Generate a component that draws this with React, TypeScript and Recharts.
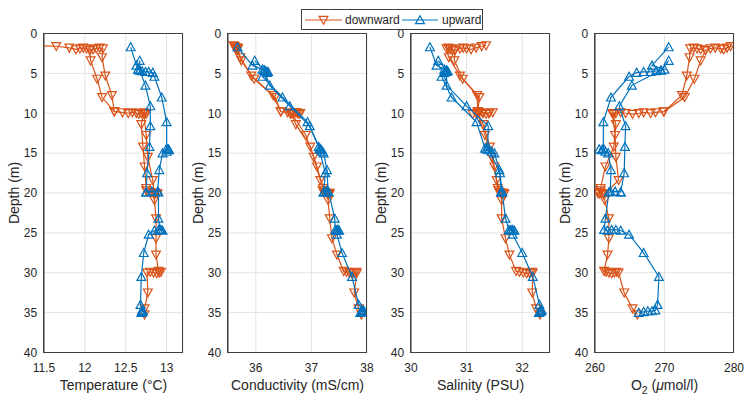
import React from 'react';
import { ScatterChart, Scatter, XAxis, YAxis, CartesianGrid } from 'recharts';

// CTD profile: downward cast (orange) and upward cast (blue), four sensors

const ORANGE = '#D95319';
const BLUE = '#0072BD';
const INK = '#262626';
const AXIS = '#404040';
const GRID = '#e3e3e3';
const FONT = '"Liberation Sans", Arial, Helvetica, sans-serif';

const depthTicks = [0, 5, 10, 15, 20, 25, 30, 35, 40];

// ---- downward cast, main path (soak at 2 m, stops at 10, 20, 30 m) ----
const downDepth = [
  1.5, 1.6, 1.8, 2.0, 1.9, 1.8, 1.9, 2.1, 2.0, 1.9, 1.8, 1.9,
  3.0, 5.3, 7.75,
  9.8, 9.9, 10.0, 9.9, 10.0, 10.1, 10.0, 9.9, 10.0, 10.1, 10.0,
  11.4, 14.2, 16.7, 19.4,
  19.7, 19.9, 20.0, 20.1, 20.0, 20.2,
  20.9, 23.2, 25.7, 27.75,
  29.8, 29.9, 30.0, 30.1, 30.0, 29.9, 30.0,
  32.5, 34.5, 35.25,
];
const downTemp = [
  11.40, 11.65, 11.81, 11.89, 11.94, 11.98, 12.02, 12.06, 12.10, 12.14, 12.18, 12.22,
  12.21, 12.25, 12.33,
  12.36, 12.46, 12.53, 12.58, 12.63, 12.66, 12.69, 12.72, 12.74, 12.75, 12.72,
  12.69, 12.71, 12.73, 12.75,
  12.75, 12.80, 12.85, 12.89, 12.87, 12.85,
  12.85, 12.87, 12.87, 12.87,
  12.90, 12.93, 12.91, 12.88, 12.84, 12.80, 12.76,
  12.77, 12.73, 12.73,
];
const downCond = [
  35.60, 35.62, 35.63, 35.64, 35.64, 35.65, 35.65, 35.66, 35.66, 35.67, 35.67, 35.68,
  35.72, 35.92, 36.31,
  36.45, 36.57, 36.66, 36.74, 36.80, 36.78, 36.75, 36.71, 36.67, 36.62, 36.64,
  36.72, 36.98, 37.10, 37.21,
  37.20, 37.24, 37.28, 37.33, 37.32, 37.30,
  37.30, 37.33, 37.37, 37.46,
  37.58, 37.63, 37.68, 37.72, 37.76, 37.80, 37.82,
  37.77, 37.85, 37.90,
];
const downSal = [
  31.35, 31.27, 31.17, 31.08, 31.00, 30.94, 30.88, 30.79, 30.74, 30.70, 30.67, 30.64,
  30.68, 30.88, 31.19,
  31.20, 31.30, 31.40, 31.47, 31.41, 31.35, 31.29, 31.23, 31.17, 31.11, 31.20,
  31.30, 31.42, 31.50, 31.56,
  31.57, 31.60, 31.64, 31.68, 31.66, 31.63,
  31.63, 31.63, 31.70, 31.77,
  31.89, 31.95, 32.02, 32.08, 32.13, 32.17, 32.19,
  32.18, 32.25, 32.32,
];
const downO2 = [
  282.0, 279.5, 279.0, 278.5, 278.1, 277.3, 276.6, 275.9, 275.2, 274.7, 274.2, 273.7,
  273.6, 273.2, 272.5,
  269.9, 268.7, 268.0, 267.0, 266.3, 265.4, 264.4, 263.7, 263.0, 262.7, 262.5,
  263.0, 262.7, 261.5, 260.8,
  260.8, 260.5, 260.4, 260.6, 261.0, 261.3,
  261.4, 262.0, 262.0, 261.8,
  261.3, 261.6, 262.0, 262.4, 262.8, 263.1, 263.4,
  264.2, 265.4, 266.1,
];

// ---- downward cast, second pass 2 m -> 10 m ----
const downDepthA = [2.1, 3.4, 5.7, 8.0, 9.8];
const downTempA = [12.06, 12.07, 12.15, 12.21, 12.36];
const downCondA = [35.66, 35.74, 35.97, 36.35, 36.45];
const downSalA = [30.79, 30.78, 30.93, 31.23, 31.20];
const downO2A = [275.9, 275.2, 274.3, 272.9, 269.9];

// ---- downward cast, second pass 10 m -> 20 m ----
const downDepthB = [10.0, 12.75, 15.5, 18.4, 20.2];
const downTempB = [12.72, 12.75, 12.77, 12.83, 12.85];
const downCondB = [36.64, 36.90, 37.04, 37.16, 37.30];
const downSalB = [31.20, 31.33, 31.45, 31.54, 31.63];
const downO2B = [262.5, 262.9, 263.0, 263.4, 261.3];

// ---- upward cast, main path (stops at 35, 25, 20, 15, 5 m) ----
const upDepth = [
  35.0, 34.9, 34.8, 34.8, 34.7, 34.0,
  30.5, 27.5, 25.2,
  24.7, 24.6, 24.6, 24.7, 24.6,
  23.2,
  19.9, 19.8, 19.9, 19.8,
  17.1,
  15.0, 14.8, 14.6, 14.5, 14.4,
  11.1, 8.0, 5.4,
  4.9, 4.8, 4.8, 4.7, 4.6, 4.5,
  4.0, 1.7,
];
const upTemp = [
  12.69, 12.70, 12.70, 12.71, 12.70, 12.68,
  12.69, 12.72, 12.78,
  12.85, 12.90, 12.93, 12.95, 12.92,
  12.90,
  12.90, 12.82, 12.75, 12.89,
  12.91,
  12.95, 13.00, 13.03, 13.02, 13.00,
  13.00, 12.94, 12.85,
  12.83, 12.78, 12.74, 12.70, 12.67, 12.65,
  12.63, 12.56,
];
const upCond = [
  37.88, 37.90, 37.91, 37.93, 37.94, 37.85,
  37.73, 37.55, 37.46,
  37.50, 37.48, 37.46, 37.45, 37.43,
  37.42,
  37.31, 37.27, 37.22, 37.30,
  37.28,
  37.22, 37.20, 37.18, 37.16, 37.15,
  36.93, 36.48, 36.12,
  36.20, 36.22, 36.20, 36.18, 36.15, 36.12,
  35.94, 35.67,
];
const upSal = [
  32.30, 32.32, 32.33, 32.34, 32.35, 32.31,
  32.19, 32.00, 31.83,
  31.86, 31.83, 31.80, 31.78, 31.76,
  31.70,
  31.64, 31.63, 31.62, 31.64,
  31.59,
  31.50, 31.45, 31.40, 31.36, 31.33,
  31.18, 30.73, 30.55,
  30.60, 30.62, 30.64, 30.66, 30.64, 30.60,
  30.46, 30.34,
];
const upO2 = [
  266.3, 267.0, 267.6, 268.2, 268.7, 269.0,
  269.2, 267.0, 264.9,
  263.7, 263.0, 262.4, 261.8, 261.3,
  261.5,
  262.0, 262.9, 263.7, 262.2,
  262.3,
  261.9, 261.5, 261.0, 260.6, 261.2,
  261.2, 262.3, 264.9,
  266.0, 267.0, 268.0, 268.8, 269.5, 270.0,
  268.2, 270.6,
];

// ---- upward cast, second pass 20 m -> 3 m ----
const upDepthB = [19.9, 17.5, 14.2, 11.6, 9.1, 6.5, 4.6, 3.4];
const upTempB = [12.75, 12.76, 12.79, 12.80, 12.80, 12.74, 12.67, 12.67];
const upCondB = [37.22, 37.25, 37.13, 36.97, 36.61, 36.25, 36.15, 35.98];
const upSalB = [31.62, 31.60, 31.38, 31.39, 31.00, 30.64, 30.64, 30.49];
const upO2B = [263.7, 264.2, 264.3, 264.4, 263.5, 265.3, 269.5, 270.6];

// ---- x axes ----
const tempTicks = [11.5, 12, 12.5, 13];
const condTicks = [36, 37, 38];
const salTicks = [30, 31, 32];
const o2Ticks = [260, 270, 280];

// layout
const PLOT_W = 139;
const PLOT_TOP = 33.5;
const PLOT_H = 319;
const AXIS_W = 45.5;
const PAD_L = 4.5;
const PAD_R = 10;
const X_AXIS_H = 45;
const LW = 1.2;
const PLOT_LEFTS = [43.5, 227.5, 410.5, 594.5];

const pts = (xs: number[], ys: number[]) => xs.map((x, i) => ({ x, y: ys[i] }));

const DownTri = (p: any) => {
  const { cx, cy } = p;
  if (cx == null || cy == null) return null;
  return (
    <path
      d={`M${cx - 4.4},${cy - 3.7}L${cx + 4.4},${cy - 3.7}L${cx},${cy + 4.3}Z`}
      fill="none"
      stroke={ORANGE}
      strokeWidth={LW}
    />
  );
};

const UpTri = (p: any) => {
  const { cx, cy } = p;
  if (cx == null || cy == null) return null;
  return (
    <path
      d={`M${cx - 4.4},${cy + 3.7}L${cx + 4.4},${cy + 3.7}L${cx},${cy - 4.3}Z`}
      fill="none"
      stroke={BLUE}
      strokeWidth={LW}
    />
  );
};

function XTitle(props: any) {
  const vb = props.viewBox ?? { x: PAD_L + AXIS_W, y: PLOT_TOP + PLOT_H, width: PLOT_W };
  const x = vb.x + vb.width / 2;
  const y = vb.y + 37;
  if (props.o2) {
    return (
      <text x={x} y={y} textAnchor="middle" fontSize={14} fill={INK} fontFamily={FONT}>
        O<tspan dy={4} fontSize={10.5}>2</tspan>
        <tspan dy={-4}> (</tspan>
        <tspan fontStyle="italic">μ</tspan>
        <tspan>mol/l)</tspan>
      </text>
    );
  }
  return (
    <text x={x} y={y} textAnchor="middle" fontSize={14} fill={INK} fontFamily={FONT}>
      {props.text}
    </text>
  );
}

function YTitle(props: any) {
  const vb = props.viewBox ?? { x: PAD_L, y: PLOT_TOP, width: AXIS_W, height: PLOT_H };
  const x = vb.x + vb.width - 25;
  const y = vb.y + vb.height / 2;
  return (
    <text
      x={x}
      y={y}
      transform={`rotate(-90, ${x}, ${y})`}
      textAnchor="middle"
      fontSize={14}
      fill={INK}
      fontFamily={FONT}
    >
      Depth (m)
    </text>
  );
}

interface PanelProps {
  plotLeft: number;
  title: string;
  o2?: boolean;
  domain: [number, number];
  ticks: number[];
  down: number[];
  downA: number[];
  downB: number[];
  up: number[];
  upB: number[];
}

function Panel({ plotLeft, title, o2, domain, ticks, down, downA, downB, up, upB }: PanelProps) {
  const tickStyle = { fill: INK, fontSize: 12, fontFamily: FONT };
  return (
    <div style={{ position: 'absolute', left: plotLeft - PAD_L - AXIS_W, top: 0 }}>
      <ScatterChart
        width={PAD_L + AXIS_W + PLOT_W + PAD_R}
        height={404}
        margin={{ top: PLOT_TOP, right: PAD_R, bottom: 404 - PLOT_TOP - PLOT_H - X_AXIS_H, left: PAD_L }}
      >
        <CartesianGrid stroke={GRID} strokeWidth={1} />
        <XAxis
          type="number"
          dataKey="x"
          domain={domain}
          ticks={ticks}
          allowDataOverflow
          height={X_AXIS_H}
          stroke={AXIS}
          tickLine={false}
          tickSize={0}
          tickMargin={10.5}
          tick={tickStyle}
          label={(p: any) => <XTitle {...p} text={title} o2={o2} />}
        />
        <YAxis
          type="number"
          dataKey="y"
          domain={[0, 40]}
          ticks={depthTicks}
          reversed
          allowDataOverflow
          width={AXIS_W}
          stroke={AXIS}
          tickLine={false}
          tickSize={0}
          tickMargin={6.8}
          tick={tickStyle}
          label={(p: any) => <YTitle {...p} />}
        />
        <Scatter
          data={pts(down, downDepth)}
          line={{ stroke: ORANGE, strokeWidth: LW }}
          lineType="joint"
          shape={DownTri}
          isAnimationActive={false}
        />
        <Scatter
          data={pts(downA, downDepthA)}
          line={{ stroke: ORANGE, strokeWidth: LW }}
          lineType="joint"
          shape={DownTri}
          isAnimationActive={false}
        />
        <Scatter
          data={pts(downB, downDepthB)}
          line={{ stroke: ORANGE, strokeWidth: LW }}
          lineType="joint"
          shape={DownTri}
          isAnimationActive={false}
        />
        <Scatter
          data={pts(up, upDepth)}
          line={{ stroke: BLUE, strokeWidth: LW }}
          lineType="joint"
          shape={UpTri}
          isAnimationActive={false}
        />
        <Scatter
          data={pts(upB, upDepthB)}
          line={{ stroke: BLUE, strokeWidth: LW }}
          lineType="joint"
          shape={UpTri}
          isAnimationActive={false}
        />
      </ScatterChart>
    </div>
  );
}

function LegendBox() {
  return (
    <div
      style={{
        position: 'absolute',
        left: 301,
        top: 9,
        width: 182,
        height: 21,
        boxSizing: 'border-box',
        border: `1px solid ${AXIS}`,
        background: '#fff',
        zIndex: 3,
      }}
    >
      <svg width={180} height={19} style={{ display: 'block' }}>
        <line x1={3} x2={40} y1={10} y2={10} stroke={ORANGE} strokeWidth={LW} />
        <DownTri cx={21.5} cy={10} />
        <text x={43} y={14.3} fontSize={12} fill={INK} fontFamily={FONT}>downward</text>
        <line x1={100} x2={136} y1={10} y2={10} stroke={BLUE} strokeWidth={LW} />
        <UpTri cx={118} cy={10} />
        <text x={140} y={14.3} fontSize={12} fill={INK} fontFamily={FONT}>upward</text>
      </svg>
    </div>
  );
}

export default function App() {
  return (
    <div
      style={{
        position: 'absolute',
        left: 0,
        top: 0,
        width: 751,
        height: 404,
        background: '#fff',
        fontFamily: FONT,
      }}
    >
      <Panel
        plotLeft={PLOT_LEFTS[0]}
        title="Temperature (°C)"
        domain={[11.5, 13.2]}
        ticks={tempTicks}
        down={downTemp}
        downA={downTempA}
        downB={downTempB}
        up={upTemp}
        upB={upTempB}
      />
      <Panel
        plotLeft={PLOT_LEFTS[1]}
        title="Conductivity (mS/cm)"
        domain={[35.5, 38]}
        ticks={condTicks}
        down={downCond}
        downA={downCondA}
        downB={downCondB}
        up={upCond}
        upB={upCondB}
      />
      <Panel
        plotLeft={PLOT_LEFTS[2]}
        title="Salinity (PSU)"
        domain={[30, 32.5]}
        ticks={salTicks}
        down={downSal}
        downA={downSalA}
        downB={downSalB}
        up={upSal}
        upB={upSalB}
      />
      <Panel
        plotLeft={PLOT_LEFTS[3]}
        title="O2 (μmol/l)"
        o2
        domain={[260, 280]}
        ticks={o2Ticks}
        down={downO2}
        downA={downO2A}
        downB={downO2B}
        up={upO2}
        upB={upO2B}
      />
      {/* axes boxes */}
      {PLOT_LEFTS.map((l) => (
        <div
          key={l}
          style={{
            position: 'absolute',
            left: Math.floor(l),
            top: Math.floor(PLOT_TOP),
            width: PLOT_W + 1,
            height: PLOT_H + 1,
            boxSizing: 'border-box',
            border: `1px solid ${AXIS}`,
            zIndex: 2,
          }}
        />
      ))}
      <LegendBox />
    </div>
  );
}
